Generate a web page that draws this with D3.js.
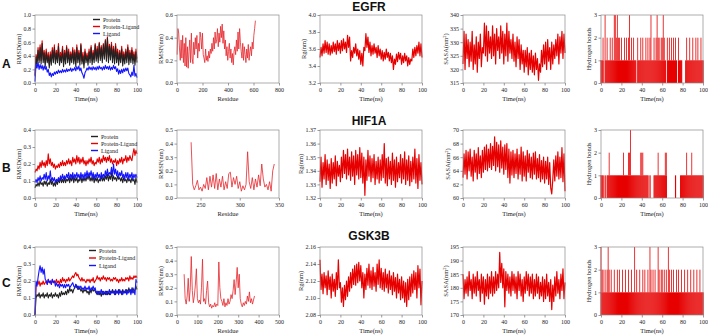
<!DOCTYPE html>
<meta charset="utf-8">
<style>
  body { margin: 0; background: #fff; }
  .tick text { font-family: "Liberation Serif", serif; font-size: 6px; fill: #222; }
  .tick line { stroke: #555; stroke-width: 0.6; }
  .axTitle { font-family: "Liberation Serif", serif; font-size: 6.5px; fill: #222; }
  .legText { font-family: "Liberation Serif", serif; font-size: 6px; fill: #222; }
  .title { font-family: "Liberation Sans", Arial, sans-serif; font-size: 12px; font-weight: bold; fill: #111; }
</style>
<body>
<script src="https://d3js.org/d3.v7.min.js"></script>
<script>

// ---------- data (1 value per ns unless noted) ----------
var timeTicks = [0, 20, 40, 60, 80, 100];
var legendNames = ["Protein", "Protein-Ligand", "Ligand"];
var rowTitles = ["EGFR", "HIF1A", "GSK3B"];
var rowLetters = ["A", "B", "C"];

// EGFR
var rmsdProteinA = [0.10,0.38,0.26,0.48,0.30,0.52,0.28,0.58,0.30,0.44, 0.24,0.46,0.30,0.40,0.22,0.42,0.26,0.48,0.30,0.52,
  0.28,0.44,0.30,0.54,0.26,0.40,0.30,0.50,0.24,0.44, 0.28,0.52,0.30,0.46,0.26,0.42,0.30,0.48,0.28,0.45,
  0.24,0.52,0.30,0.44,0.26,0.56,0.28,0.40,0.22,0.46, 0.30,0.40,0.26,0.46,0.30,0.52,0.27,0.44,0.30,0.56,
  0.32,0.50,0.30,0.58,0.33,0.52,0.30,0.56,0.35,0.62, 0.32,0.66,0.30,0.54,0.34,0.56,0.30,0.50,0.28,0.54,
  0.30,0.46,0.26,0.44,0.30,0.50,0.25,0.42,0.28,0.46, 0.30,0.52,0.27,0.44,0.30,0.48,0.28,0.42,0.26,0.46, 0.30];
var rmsdComplexA = [0.12,0.42,0.32,0.52,0.34,0.56,0.33,0.62,0.35,0.48, 0.30,0.50,0.34,0.45,0.28,0.46,0.32,0.52,0.36,0.56,
  0.33,0.48,0.35,0.58,0.32,0.45,0.36,0.54,0.30,0.48, 0.34,0.55,0.36,0.50,0.32,0.46,0.35,0.52,0.33,0.49,
  0.30,0.56,0.36,0.48,0.32,0.58,0.33,0.45,0.28,0.50, 0.35,0.44,0.32,0.50,0.36,0.55,0.33,0.48,0.35,0.58,
  0.37,0.54,0.36,0.60,0.38,0.55,0.36,0.58,0.40,0.64, 0.38,0.68,0.36,0.57,0.40,0.60,0.36,0.54,0.34,0.58,
  0.36,0.50,0.32,0.48,0.36,0.54,0.31,0.46,0.34,0.50, 0.36,0.56,0.33,0.48,0.36,0.52,0.34,0.46,0.32,0.50, 0.36];
var rmsdLigandA = [0.02,0.28,0.22,0.30,0.20,0.27,0.21,0.26,0.19,0.25, 0.20,0.24,0.16,0.20,0.11,0.15,0.09,0.14,0.11,0.16,
  0.13,0.17,0.14,0.19,0.15,0.18,0.15,0.20,0.16,0.19, 0.16,0.21,0.17,0.20,0.18,0.22,0.17,0.21,0.19,0.23,
  0.18,0.24,0.20,0.25,0.18,0.22,0.15,0.12,0.07,0.15, 0.18,0.22,0.19,0.24,0.20,0.23,0.19,0.24,0.20,0.23,
  0.19,0.24,0.20,0.25,0.21,0.23,0.19,0.24,0.20,0.26, 0.21,0.24,0.20,0.25,0.19,0.23,0.20,0.26,0.21,0.24,
  0.17,0.21,0.13,0.19,0.14,0.20,0.15,0.21,0.17,0.22, 0.18,0.22,0.14,0.12,0.09,0.16,0.11,0.26,0.10,0.14, 0.08];
var rmsfResA = [1, 615];
var rmsfA = [0.25,0.48,0.44,0.30,0.20,0.38,0.22,0.42,0.18,0.35, 0.15,0.40,0.14,0.32,0.13,0.28,0.38,0.18,0.44,0.22,
  0.17,0.36,0.25,0.40,0.30,0.42,0.22,0.35,0.28,0.45, 0.40,0.30,0.44,0.25,0.22,0.18,0.30,0.20,0.24,0.19,
  0.28,0.22,0.30,0.26,0.35,0.28,0.40,0.30,0.45,0.35, 0.38,0.48,0.32,0.44,0.36,0.50,0.40,0.52,0.35,0.46,
  0.30,0.38,0.24,0.32,0.20,0.28,0.35,0.22,0.30,0.18, 0.26,0.16,0.28,0.32,0.25,0.38,0.28,0.45,0.30,0.48,
  0.36,0.28,0.22,0.35,0.20,0.32,0.25,0.18,0.30,0.22, 0.34,0.20,0.28,0.32,0.24,0.36,0.30,0.42,0.48,0.55];
var rgA = [3.50,3.62,3.52,3.66,3.55,3.70,3.56,3.68,3.54,3.66, 3.53,3.64,3.55,3.68,3.57,3.66,3.54,3.70,3.58,3.67,
  3.55,3.70,3.58,3.72,3.60,3.68,3.56,3.76,3.62,3.74, 3.46,3.58,3.50,3.62,3.55,3.66,3.52,3.60,3.48,3.58,
  3.42,3.55,3.40,3.62,3.58,3.78,3.62,3.74,3.56,3.68, 3.52,3.64,3.54,3.66,3.55,3.62,3.50,3.64,3.52,3.60,
  3.48,3.58,3.46,3.56,3.48,3.60,3.50,3.56,3.46,3.55, 3.44,3.52,3.36,3.48,3.42,3.54,3.45,3.56,3.48,3.55,
  3.42,3.52,3.44,3.55,3.46,3.52,3.40,3.50,3.42,3.48, 3.46,3.60,3.50,3.62,3.52,3.64,3.55,3.68,3.52,3.66, 3.50];
var sasaA = [322,334,320,333,324,331,321,330,323,334, 320,329,322,332,319,330,324,333,321,328,
  326,337,325,336,323,334,326,332,324,336, 325,333,322,335,327,332,324,336,326,334,
  322,333,325,337,323,334,326,331,324,333, 323,330,321,332,324,331,320,329,322,327,
  319,327,321,328,318,326,320,327,319,325, 318,326,320,324,316,322,319,327,321,329,
  322,330,320,331,323,328,320,330,322,329, 324,331,325,333,322,332,326,334,324,333, 326];
var hbondA = [1,1,2,0,3,1,2,1,1,2, 1,2,1,3,3,2,3,2,2,1, 2,1,1,2,1,2,1,2,3,1, 2,1,2,1,1,0,2,1,1,2,
  1,2,1,1,2,1,2,1,2,3, 1,1,2,1,2,3,2,2,1,2, 2,3,2,1,0,2,1,2,1,2, 1,2,1,2,1,0,2,1,1,1,
  0,0,0,1,2,1,1,2,1,1, 2,1,1,2,1,2,1,1,2,1, 1];

// HIF1A
var rmsdProteinB = [0.06,0.08,0.07,0.09,0.07,0.10,0.08,0.09,0.07,0.10, 0.08,0.10,0.07,0.09,0.08,0.11,0.08,0.10,0.07,0.09,
  0.07,0.10,0.08,0.11,0.09,0.12,0.09,0.11,0.09,0.12, 0.09,0.11,0.10,0.12,0.09,0.12,0.10,0.13,0.09,0.12,
  0.10,0.12,0.09,0.11,0.10,0.13,0.09,0.12,0.10,0.12, 0.10,0.13,0.11,0.14,0.10,0.12,0.10,0.13,0.09,0.12,
  0.10,0.12,0.09,0.11,0.10,0.13,0.10,0.12,0.10,0.13, 0.11,0.14,0.10,0.13,0.11,0.15,0.10,0.13,0.11,0.12,
  0.10,0.13,0.11,0.12,0.10,0.12,0.09,0.12,0.10,0.11, 0.09,0.12,0.10,0.11,0.09,0.12,0.10,0.11,0.08,0.12, 0.09];
var rmsdComplexB = [0.15,0.17,0.16,0.19,0.17,0.21,0.18,0.22,0.19,0.21, 0.18,0.22,0.19,0.26,0.20,0.23,0.19,0.21,0.18,0.20,
  0.17,0.19,0.18,0.20,0.18,0.21,0.19,0.22,0.19,0.21, 0.19,0.22,0.20,0.23,0.20,0.22,0.19,0.24,0.21,0.23,
  0.20,0.25,0.21,0.24,0.20,0.23,0.21,0.24,0.20,0.22, 0.19,0.22,0.20,0.23,0.21,0.24,0.20,0.22,0.19,0.21,
  0.20,0.23,0.21,0.24,0.20,0.23,0.21,0.25,0.22,0.24, 0.21,0.24,0.22,0.25,0.21,0.23,0.20,0.22,0.21,0.23,
  0.19,0.22,0.20,0.23,0.21,0.24,0.20,0.23,0.22,0.25, 0.21,0.24,0.22,0.25,0.23,0.22,0.26,0.29,0.25,0.28, 0.26];
var rmsdLigandB = [0.09,0.11,0.09,0.12,0.10,0.13,0.10,0.12,0.11,0.14, 0.11,0.15,0.10,0.13,0.11,0.16,0.10,0.12,0.10,0.12,
  0.09,0.11,0.10,0.12,0.10,0.13,0.11,0.14,0.11,0.13, 0.11,0.14,0.12,0.15,0.11,0.14,0.12,0.15,0.11,0.14,
  0.12,0.15,0.12,0.14,0.11,0.15,0.12,0.14,0.11,0.15, 0.12,0.16,0.12,0.15,0.13,0.16,0.12,0.15,0.11,0.14,
  0.12,0.15,0.12,0.14,0.11,0.15,0.12,0.14,0.12,0.16, 0.13,0.17,0.13,0.15,0.14,0.18,0.13,0.20,0.14,0.17,
  0.13,0.16,0.12,0.15,0.13,0.16,0.12,0.14,0.11,0.15, 0.12,0.15,0.11,0.14,0.12,0.15,0.11,0.14,0.12,0.14, 0.12];
var rmsfResB = [238, 344];
var rmsfB = [0.41,0.10,0.06,0.09,0.13,0.06,0.08,0.05,0.10,0.07, 0.15,0.06,0.16,0.08,0.17,0.07,0.18,0.06,0.14,0.08,
  0.16,0.06,0.12,0.07,0.18,0.19,0.08,0.15,0.10,0.16, 0.07,0.12,0.05,0.09,0.06,0.10,0.34,0.12,0.07,0.15,
  0.06,0.14,0.08,0.17,0.09,0.25,0.14,0.08,0.10,0.06, 0.12,0.05,0.20,0.25];
var rgB = [1.332,1.350,1.328,1.346,1.334,1.352,1.330,1.348,1.333,1.345, 1.327,1.349,1.331,1.346,1.334,1.351,1.329,1.347,1.336,1.344,
  1.332,1.350,1.335,1.355,1.338,1.352,1.334,1.356,1.337,1.350, 1.333,1.354,1.336,1.351,1.330,1.355,1.337,1.352,1.334,1.357,
  1.335,1.353,1.331,1.350,1.322,1.348,1.333,1.355,1.336,1.351, 1.332,1.349,1.335,1.352,1.330,1.347,1.334,1.350,1.331,1.348,
  1.333,1.352,1.335,1.360,1.331,1.349,1.329,1.350,1.334,1.347, 1.330,1.353,1.333,1.348,1.328,1.350,1.332,1.346,1.335,1.352,
  1.331,1.349,1.334,1.354,1.330,1.348,1.333,1.351,1.329,1.347, 1.332,1.350,1.334,1.356,1.331,1.349,1.327,1.352,1.333,1.346, 1.330];
var sasaB = [63.0,66.5,63.5,67.0,62.8,66.8,64.0,67.2,63.2,66.0, 62.5,67.0,63.8,66.5,62.8,67.4,63.6,66.2,63.0,67.0,
  63.8,67.5,64.2,67.8,64.0,67.2,64.5,68.0,64.2,67.6, 64.8,69.0,64.0,68.2,64.6,67.8,63.8,68.4,64.4,67.5,
  63.5,67.8,64.2,68.0,63.0,67.2,62.2,66.8,63.4,67.0, 63.0,66.5,63.6,67.2,62.8,66.4,63.5,67.5,62.5,66.8,
  63.2,66.2,62.5,67.0,63.8,66.5,63.0,66.0,62.8,66.6, 63.5,66.8,62.8,65.8,63.0,66.4,62.4,65.5,62.8,66.0,
  62.2,65.4,62.8,66.0,62.0,65.2,61.5,60.6,62.6,65.6, 62.5,66.2,63.2,66.8,62.8,66.0,63.0,67.4,62.4,66.5, 61.0];
var hbondB = [1,1,1,0,1,0,1,1,2,1, 1,1,1,1,1,1,1,1,1,1, 1,1,2,1,1,1,1,2,2,3, 1,1,1,1,1,1,1,1,1,2,
  2,2,1,1,1,1,1,0,1,0, 0,0,1,1,1,1,2,1,1,1, 1,1,1,2,2,0,0,0,0,0, 0,0,0,1,0,0,0,0,1,1,
  1,1,1,1,2,1,1,1,1,2, 1,1,1,1,1,1,1,1,1,1, 1];

// GSK3B
var rmsdProteinC = [0.00,0.10,0.12,0.11,0.13,0.10,0.12,0.11,0.13,0.10, 0.12,0.11,0.13,0.10,0.12,0.11,0.13,0.10,0.12,0.11,
  0.13,0.11,0.12,0.10,0.13,0.11,0.14,0.12,0.13,0.12, 0.14,0.12,0.15,0.13,0.16,0.14,0.15,0.13,0.15,0.16,
  0.18,0.16,0.17,0.15,0.16,0.14,0.15,0.13,0.15,0.14, 0.15,0.13,0.14,0.12,0.15,0.13,0.16,0.14,0.15,0.14,
  0.13,0.12,0.14,0.12,0.13,0.11,0.14,0.12,0.13,0.12, 0.14,0.12,0.13,0.12,0.14,0.13,0.15,0.13,0.14,0.12,
  0.14,0.13,0.15,0.13,0.14,0.12,0.15,0.13,0.14,0.13, 0.15,0.13,0.16,0.14,0.15,0.13,0.16,0.14,0.15,0.17, 0.15];
var rmsdComplexC = [0.00,0.17,0.19,0.18,0.20,0.17,0.19,0.18,0.20,0.18, 0.19,0.20,0.18,0.21,0.19,0.20,0.18,0.21,0.19,0.20,
  0.19,0.21,0.19,0.20,0.18,0.21,0.19,0.22,0.20,0.21, 0.19,0.21,0.20,0.22,0.20,0.21,0.22,0.23,0.22,0.24,
  0.25,0.23,0.24,0.22,0.21,0.20,0.22,0.20,0.21,0.20, 0.19,0.21,0.20,0.21,0.19,0.21,0.20,0.22,0.19,0.20,
  0.21,0.23,0.21,0.22,0.20,0.22,0.21,0.23,0.21,0.22, 0.20,0.22,0.21,0.22,0.20,0.21,0.20,0.22,0.21,0.22,
  0.20,0.21,0.19,0.21,0.20,0.22,0.20,0.21,0.20,0.22, 0.21,0.22,0.20,0.23,0.21,0.22,0.21,0.23,0.22,0.23, 0.22];
var rmsdLigandC = [0.00,0.20,0.17,0.22,0.26,0.29,0.25,0.28,0.24,0.27, 0.21,0.20,0.18,0.21,0.19,0.20,0.18,0.21,0.19,0.20,
  0.17,0.19,0.17,0.18,0.16,0.18,0.17,0.18,0.16,0.18, 0.16,0.18,0.17,0.18,0.16,0.17,0.18,0.19,0.17,0.16,
  0.18,0.17,0.15,0.17,0.16,0.17,0.15,0.16,0.15,0.17, 0.15,0.16,0.15,0.17,0.14,0.16,0.15,0.17,0.15,0.16,
  0.13,0.14,0.12,0.14,0.13,0.15,0.12,0.14,0.13,0.14, 0.12,0.14,0.13,0.15,0.12,0.14,0.13,0.14,0.12,0.15,
  0.13,0.14,0.12,0.15,0.13,0.14,0.12,0.14,0.13,0.15, 0.12,0.14,0.13,0.15,0.12,0.16,0.13,0.14,0.12,0.21, 0.19];
var rmsfResC = [35, 380];
var rmsfC = [0.30,0.12,0.08,0.14,0.27,0.10,0.20,0.43,0.18,0.09, 0.14,0.22,0.34,0.12,0.09,0.11,0.08,0.20,0.41,0.10,
  0.12,0.08,0.18,0.25,0.09,0.06,0.08,0.05,0.07,0.06, 0.09,0.06,0.08,0.07,0.39,0.20,0.12,0.10,0.07,0.12,
  0.06,0.09,0.07,0.12,0.08,0.10,0.15,0.12,0.18,0.26, 0.15,0.24,0.35,0.20,0.30,0.12,0.08,0.06,0.09,0.07,
  0.10,0.08,0.14,0.10,0.17,0.09,0.12,0.08,0.11,0.14];
var rgC = [2.145,2.110,2.128,2.105,2.130,2.112,2.126,2.104,2.132,2.110, 2.125,2.100,2.128,2.108,2.122,2.102,2.130,2.110,2.145,2.112,
  2.118,2.095,2.112,2.090,2.115,2.098,2.120,2.102,2.125,2.108, 2.130,2.112,2.134,2.116,2.138,2.115,2.140,2.118,2.142,2.120,
  2.138,2.112,2.130,2.100,2.128,2.110,2.135,2.115,2.140,2.112, 2.132,2.110,2.136,2.114,2.130,2.108,2.140,2.116,2.145,2.112,
  2.135,2.110,2.130,2.108,2.134,2.112,2.128,2.106,2.132,2.110, 2.126,2.104,2.130,2.108,2.124,2.100,2.128,2.106,2.122,2.098,
  2.125,2.100,2.120,2.095,2.118,2.090,2.122,2.098,2.125,2.102, 2.128,2.106,2.132,2.110,2.130,2.100,2.138,2.112,2.134,2.092, 2.120];
var sasaC = [185,176,183,178,184,177,186,179,183,176, 185,178,184,177,186,179,183,175,185,178,
  184,174,183,177,185,176,184,178,186,177, 184,178,186,179,185,180,193,182,189,180,
  187,173,186,179,185,178,184,177,186,179, 185,178,184,176,186,179,185,177,183,175,
  184,178,186,179,185,177,184,178,185,176, 183,177,185,178,184,176,182,177,184,175,
  183,176,185,177,182,175,183,172,181,175, 184,177,186,178,183,176,185,179,187,176, 182];
var hbondC = [3,2,2,1,2,1,2,3,2,1, 2,1,1,2,1,1,2,1,2,1, 1,2,1,1,2,1,1,2,1,1, 2,1,1,3,1,2,1,1,2,1,
  1,2,1,2,1,1,2,1,3,2, 1,2,1,2,1,1,3,2,1,2, 2,1,2,1,2,1,3,2,1,2, 1,2,1,1,2,1,2,1,1,2,
  1,1,2,1,1,2,1,1,2,1, 1,2,1,1,2,1,1,2,1,1, 1];

// ---------- layout ----------
var colLeft = [35, 177, 320, 463, 601];
var rowTop = [15, 130, 247];
var pw = 102, ph = 68;

var RED = "#e60000", BLACK = "#222", BLUE = "#1414ff";

var svg = d3.select("body").append("svg")
  .attr("width", 708)
  .attr("height", 336);

// one framed panel with left/bottom ticks
function panel(c, r, opt) {
  var left = colLeft[c], top = rowTop[r];
  var g = svg.append("g").attr("transform", "translate(" + left + "," + top + ")");
  var x = d3.scaleLinear().domain(opt.xDomain).range([0, pw]);
  var y = d3.scaleLinear().domain(opt.yDomain).range([ph, 0]);

  var ax = g.append("g").attr("transform", "translate(0," + ph + ")")
    .call(d3.axisBottom(x).tickValues(opt.xTicks).tickSize(2.5).tickPadding(2).tickFormat(d3.format("d")));
  var ay = g.append("g")
    .call(d3.axisLeft(y).tickValues(opt.yTicks).tickSize(2.5).tickPadding(1.5).tickFormat(d3.format(opt.yFmt)));
  ax.select(".domain").remove();
  ay.select(".domain").remove();

  var inner = g.append("g");

  g.append("rect")
    .attr("width", pw).attr("height", ph)
    .attr("fill", "none").attr("stroke", "#8a8a8a").attr("stroke-width", 0.7);

  g.append("text").attr("class", "axTitle")
    .attr("x", pw / 2).attr("y", ph + 18)
    .attr("text-anchor", "middle")
    .text(opt.xLabel);

  var yt = g.append("text").attr("class", "axTitle")
    .attr("transform", "translate(" + (-opt.yOff) + "," + (ph / 2) + ") rotate(-90)")
    .attr("text-anchor", "middle");
  yt.text(opt.yLabel);
  if (opt.sup) {
    yt.append("tspan").attr("baseline-shift", "super").attr("font-size", "4.5px").text("2");
    yt.append("tspan").text(")");
  }

  return { g: inner, top: g, x: x, y: y };
}

function timeLine(p, values, color, width) {
  var n = values.length;
  var line = d3.line()
    .x(function (d, i) { return p.x(i * 100 / (n - 1)); })
    .y(function (d) { return p.y(d); });
  p.g.append("path")
    .datum(values)
    .attr("d", line)
    .attr("fill", "none")
    .attr("stroke", color)
    .attr("stroke-width", width)
    .attr("stroke-linejoin", "round");
}

function resLine(p, values, range) {
  var n = values.length;
  var line = d3.line()
    .x(function (d, i) { return p.x(range[0] + i * (range[1] - range[0]) / (n - 1)); })
    .y(function (d) { return p.y(d); });
  p.g.append("path")
    .datum(values)
    .attr("d", line)
    .attr("fill", "none")
    .attr("stroke", "#e4262c")
    .attr("stroke-width", 0.8);
}

// hydrogen bond counts: solid up to 1, thin spikes above
function hbBars(p, values) {
  var n = values.length;
  var step = p.x(100 / (n - 1)) - p.x(0);
  p.g.selectAll("rect.hbLow")
    .data(values)
    .enter().append("rect")
    .attr("class", "hbLow")
    .attr("x", function (d, i) { return p.x(i * 100 / (n - 1)) - step * 0.5; })
    .attr("width", step + 0.15)
    .attr("y", function (d) { return p.y(Math.min(d, 1)); })
    .attr("height", function (d) { return p.y(0) - p.y(Math.min(d, 1)); })
    .attr("fill", RED);
  p.g.selectAll("rect.hbHigh")
    .data(values.map(function (d, i) { return { t: i * 100 / (n - 1), v: d }; })
      .filter(function (d) { return d.v > 1; }))
    .enter().append("rect")
    .attr("class", "hbHigh")
    .attr("x", function (d) { return p.x(d.t) - 0.4; })
    .attr("width", 0.8)
    .attr("y", function (d) { return p.y(d.v); })
    .attr("height", function (d) { return p.y(1) - p.y(d.v); })
    .attr("fill", RED);
}

function legend(p, lx, ly, gap) {
  var colors = [BLACK, RED, BLUE];
  legendNames.forEach(function (name, i) {
    p.top.append("line")
      .attr("x1", lx).attr("x2", lx + 7)
      .attr("y1", ly + i * gap).attr("y2", ly + i * gap)
      .attr("stroke", colors[i]).attr("stroke-width", 1.4);
    p.top.append("text").attr("class", "legText")
      .attr("x", lx + 10).attr("y", ly + i * gap + 2)
      .text(name);
  });
}

var rmsdSets = [
  [rmsdProteinA, rmsdComplexA, rmsdLigandA],
  [rmsdProteinB, rmsdComplexB, rmsdLigandB],
  [rmsdProteinC, rmsdComplexC, rmsdLigandC]
];
var rmsdY = [[0, 1], [0, 0.4], [0, 0.4]];
var rmsdTicks = [[0, 0.2, 0.4, 0.6, 0.8, 1.0], [0, 0.1, 0.2, 0.3, 0.4], [0, 0.1, 0.2, 0.3, 0.4]];
var legendPos = [[58, 4.5, 7], [56, 6.5, 7], [54, 3.5, 7.5]];

var rmsfSets = [rmsfA, rmsfB, rmsfC];
var rmsfRanges = [rmsfResA, rmsfResB, rmsfResC];
var rmsfX = [[0, 800], [220, 350], [0, 500]];
var rmsfXTicks = [[0, 200, 400, 600, 800], [250, 300, 350], [0, 100, 200, 300, 400, 500]];
var rmsfY = [[0, 0.6], [0, 0.5], [0, 0.5]];
var rmsfYTicks = [[0, 0.2, 0.4, 0.6], [0, 0.1, 0.2, 0.3, 0.4, 0.5], [0, 0.1, 0.2, 0.3, 0.4, 0.5]];

var rgSets = [rgA, rgB, rgC];
var rgY = [[3.2, 4.0], [1.32, 1.37], [2.08, 2.16]];
var rgTicks = [[3.2, 3.4, 3.6, 3.8, 4.0], [1.32, 1.33, 1.34, 1.35, 1.36, 1.37], [2.08, 2.10, 2.12, 2.14, 2.16]];
var rgFmt = [".1f", ".2f", ".2f"];

var sasaSets = [sasaA, sasaB, sasaC];
var sasaY = [[315, 340], [60, 70], [170, 195]];
var sasaTicks = [[315, 320, 325, 330, 335, 340], [60, 62, 64, 66, 68, 70], [170, 175, 180, 185, 190, 195]];

var hbSets = [hbondA, hbondB, hbondC];
var titleY = [11, 125, 240];
var letterY = [68, 172, 287];

for (var r = 0; r < 3; r++) {
  // RMSD
  var p1 = panel(0, r, { xDomain: [0, 100], xTicks: timeTicks, yDomain: rmsdY[r], yTicks: rmsdTicks[r],
    yFmt: ".1f", xLabel: "Time(ns)", yLabel: "RMSD(nm)", yOff: 14 });
  timeLine(p1, rmsdSets[r][1], RED, 1.1);
  timeLine(p1, rmsdSets[r][0], BLACK, 1.1);
  timeLine(p1, rmsdSets[r][2], BLUE, 1.1);
  legend(p1, legendPos[r][0], legendPos[r][1], legendPos[r][2]);

  // RMSF
  var p2 = panel(1, r, { xDomain: rmsfX[r], xTicks: rmsfXTicks[r], yDomain: rmsfY[r], yTicks: rmsfYTicks[r],
    yFmt: ".1f", xLabel: "Residue", yLabel: "RMSF(nm)", yOff: 14 });
  resLine(p2, rmsfSets[r], rmsfRanges[r]);

  // Rg
  var p3 = panel(2, r, { xDomain: [0, 100], xTicks: timeTicks, yDomain: rgY[r], yTicks: rgTicks[r],
    yFmt: rgFmt[r], xLabel: "Time(ns)", yLabel: "Rg(nm)", yOff: r === 0 ? 14 : 17 });
  timeLine(p3, rgSets[r], RED, 1.2);

  // SASA
  var p4 = panel(3, r, { xDomain: [0, 100], xTicks: timeTicks, yDomain: sasaY[r], yTicks: sasaTicks[r],
    yFmt: "d", xLabel: "Time(ns)", yLabel: "SASA(nm", sup: true, yOff: r === 1 ? 13 : 15 });
  timeLine(p4, sasaSets[r], RED, 1.2);

  // hydrogen bonds
  var p5 = panel(4, r, { xDomain: [0, 100], xTicks: timeTicks, yDomain: [0, 3], yTicks: [0, 1, 2, 3],
    yFmt: "d", xLabel: "Time(ns)", yLabel: "Hydrogen bonds", yOff: 10 });
  hbBars(p5, hbSets[r]);

  svg.append("text").attr("class", "title")
    .attr("x", 369).attr("y", titleY[r])
    .attr("text-anchor", "middle")
    .text(rowTitles[r]);

  svg.append("text").attr("class", "title")
    .attr("x", 2).attr("y", letterY[r])
    .text(rowLetters[r]);
}

</script>
</body>
